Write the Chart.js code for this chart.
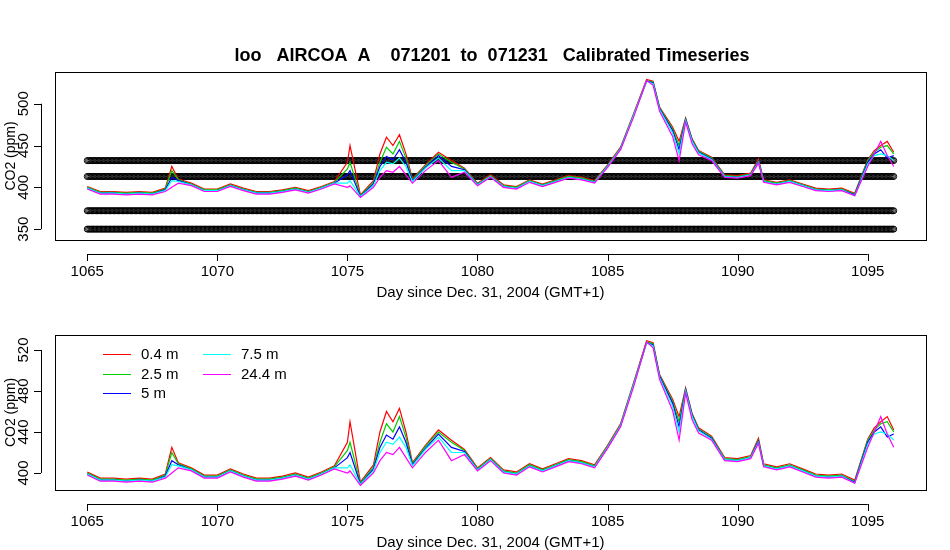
<!DOCTYPE html>
<html><head><meta charset="utf-8">
<script src="https://cdn.jsdelivr.net/npm/chart.js@4.4.1/dist/chart.umd.min.js"></script>
<style>body{margin:0;background:#fff}canvas{position:absolute;left:0;top:0}</style>
</head><body>
<div style="position:absolute;left:0;top:0;width:950px;height:550px"><canvas id="c1"></canvas></div>
<div style="position:absolute;left:0;top:0;width:950px;height:550px"><canvas id="c2"></canvas></div>
<script>
const days=[1065,1065.5,1066,1066.5,1067,1067.5,1068,1068.25,1068.5,1069,1069.5,1070,1070.5,1071,1071.5,1072,1072.5,1073,1073.5,1074,1074.5,1075,1075.1,1075.5,1076,1076.25,1076.5,1076.75,1077,1077.25,1077.5,1078,1078.5,1079,1079.5,1080,1080.5,1081,1081.5,1082,1082.5,1083,1083.5,1084,1084.5,1085,1085.5,1086,1086.5,1086.75,1087,1087.5,1087.75,1088,1088.25,1088.5,1089,1089.5,1090,1090.5,1090.8,1091,1091.5,1092,1092.5,1093,1093.5,1094,1094.5,1095,1095.25,1095.5,1095.75,1096];
const co2_04=[401,395,395,394,395,394,399,425,410,405,398,398,404,399,395,395,397,400,396,401,407,430,450,391,408,440,460,450,463,440,410,427,442,432,423,405,415,403,401,409,404,409,414,412,408,427,448,488,529,527,496,472,455,483,458,444,436,415,414,417,434,409,406,409,404,399,398,399,393,433,444,450,455,442];
const co2_25=[400,394,394,393,394,393,398,420,409,404,397,397,403,398,394,394,396,399,395,400,406,422,430,390,406,430,448,440,455,435,409,426,440,430,422,404,414,402,400,408,403,408,413,411,407,426,447,487,528,526,495,470,450,482,457,443,435,414,413,416,432,408,405,408,403,398,397,398,392,432,442,448,450,440];
const co2_5=[399,393,393,392,393,392,397,412,408,403,396,396,402,397,393,393,395,398,394,399,405,415,420,389,404,425,437,433,445,430,408,424,438,425,421,403,413,401,399,407,402,407,412,410,406,425,446,486,527,525,494,468,445,481,456,442,434,413,412,415,431,407,404,407,402,397,396,397,391,430,440,445,435,438];
const co2_75=[399,393,393,392,393,392,396,408,407,403,396,396,402,397,393,393,395,398,394,399,405,405,408,389,402,420,430,428,435,425,407,423,435,420,420,403,413,401,399,407,402,407,412,410,406,425,446,486,527,524,493,465,440,480,455,441,433,413,412,415,430,407,404,407,402,397,396,397,390,428,438,440,438,432];
const co2_244=[398,392,392,391,392,391,395,400,405,402,395,395,401,396,392,392,394,397,393,398,404,400,402,388,400,412,420,418,425,415,405,420,432,412,418,402,412,400,398,406,401,406,411,409,405,424,445,484,528,522,491,461,432,478,452,439,432,412,411,414,429,406,403,406,401,396,395,396,390,425,440,455,438,425];
const seriesNames=["0.4 m","2.5 m","5 m","7.5 m","24.4 m"];
const seriesColors=["#ff0000","#00cd00","#0000ff","#00ffff","#ff00ff"];
const calLevels=[432,413,372,350];
const calStep=0.05, calStart=1065, calEnd=1096;
const xTicks=[1065,1070,1075,1080,1085,1090,1095];
const yTicksTop=[350,400,450,500];
const yTicksBot=[400,440,480,520];
const FONT='"Liberation Sans", Arial, sans-serif';

function lineSets(){
  const arr=[co2_04,co2_25,co2_5,co2_75,co2_244];
  return arr.map((v,i)=>({type:'line',data:v.map((y,j)=>({x:days[j],y})),borderColor:seriesColors[i],borderWidth:1.2,pointRadius:0,tension:0,order:10-i}));
}
function calSets(){
  return calLevels.map(l=>{const d=[];for(let t=calStart;t<=calEnd+1e-9;t+=calStep)d.push({x:t,y:l});
    return {type:'scatter',data:d,pointStyle:'circle',pointRadius:3,borderColor:'#000',backgroundColor:'rgba(255,255,255,0)',borderWidth:1,showLine:false,order:20};});
}
function axesPlugin(yt,legend){return {id:'ax',afterDraw(c){
  const g=c.ctx,a=c.chartArea,xs=c.scales.x,ys=c.scales.y;
  g.save();g.strokeStyle='#000';g.lineWidth=1;g.fillStyle='#000';
  g.strokeRect(a.left+0.5,a.top+0.5,a.right-a.left,a.bottom-a.top);
  const ay=a.bottom+14;
  g.beginPath();g.moveTo(xs.getPixelForValue(xTicks[0]),ay+0.5);g.lineTo(xs.getPixelForValue(xTicks[xTicks.length-1]),ay+0.5);
  xTicks.forEach(t=>{const p=Math.round(xs.getPixelForValue(t))+0.5;g.moveTo(p,ay);g.lineTo(p,ay+7);});
  const ax=a.left-14;
  g.moveTo(ax+0.5,ys.getPixelForValue(yt[0]));g.lineTo(ax+0.5,ys.getPixelForValue(yt[yt.length-1]));
  yt.forEach(t=>{const p=Math.round(ys.getPixelForValue(t))+0.5;g.moveTo(ax,p);g.lineTo(ax-7,p);});
  g.stroke();
  g.font='15px '+FONT;g.textAlign='center';g.textBaseline='top';
  xTicks.forEach(t=>g.fillText(String(t),xs.getPixelForValue(t),ay+10));
  g.fillText('Day since Dec. 31, 2004 (GMT+1)',(a.left+a.right)/2,ay+31);
  yt.forEach(t=>{g.save();g.translate(ax-10,ys.getPixelForValue(t));g.rotate(-Math.PI/2);g.textBaseline='bottom';g.fillText(String(t),0,0);g.restore();});
  g.save();g.font='14px '+FONT;g.translate(11,(a.top+a.bottom)/2);g.rotate(-Math.PI/2);g.textBaseline='middle';g.fillText('CO2 (ppm)',0,0);g.restore();
  if(legend){
    const pos=[[103,354],[103,374],[103,393],[203,354],[203,374]];
    g.textAlign='left';g.textBaseline='middle';
    seriesNames.forEach((n,i)=>{const [x,y]=pos[i];g.strokeStyle=seriesColors[i];g.beginPath();g.moveTo(x,y+0.5);g.lineTo(x+28,y+0.5);g.stroke();g.fillText(n,x+38,y+1);});
  } else {
    g.font='bold 18px '+FONT;g.textAlign='center';g.textBaseline='middle';
    g.fillText('loo   AIRCOA  A    071201  to  071231   Calibrated Timeseries',492,56);
  }
  g.restore();}};}
function mk(id,ds,ymin,ymax,pad,yt,legend){
  new Chart(document.getElementById(id),{data:{datasets:ds},options:{responsive:true,maintainAspectRatio:false,animation:false,
    layout:{padding:pad},plugins:{legend:{display:false},tooltip:{enabled:false}},
    scales:{x:{type:'linear',min:1063.76,max:1097.24,display:false},y:{min:ymin,max:ymax,display:false}}},plugins:[axesPlugin(yt,legend)]});
}
mk('c1',[...calSets(),...lineSets()],337,538,{left:55,top:72,right:24,bottom:310},yTicksTop,false);
mk('c2',lineSets(),383.4,534.6,{left:55,top:335,right:24,bottom:60},yTicksBot,true);
</script></body></html>
